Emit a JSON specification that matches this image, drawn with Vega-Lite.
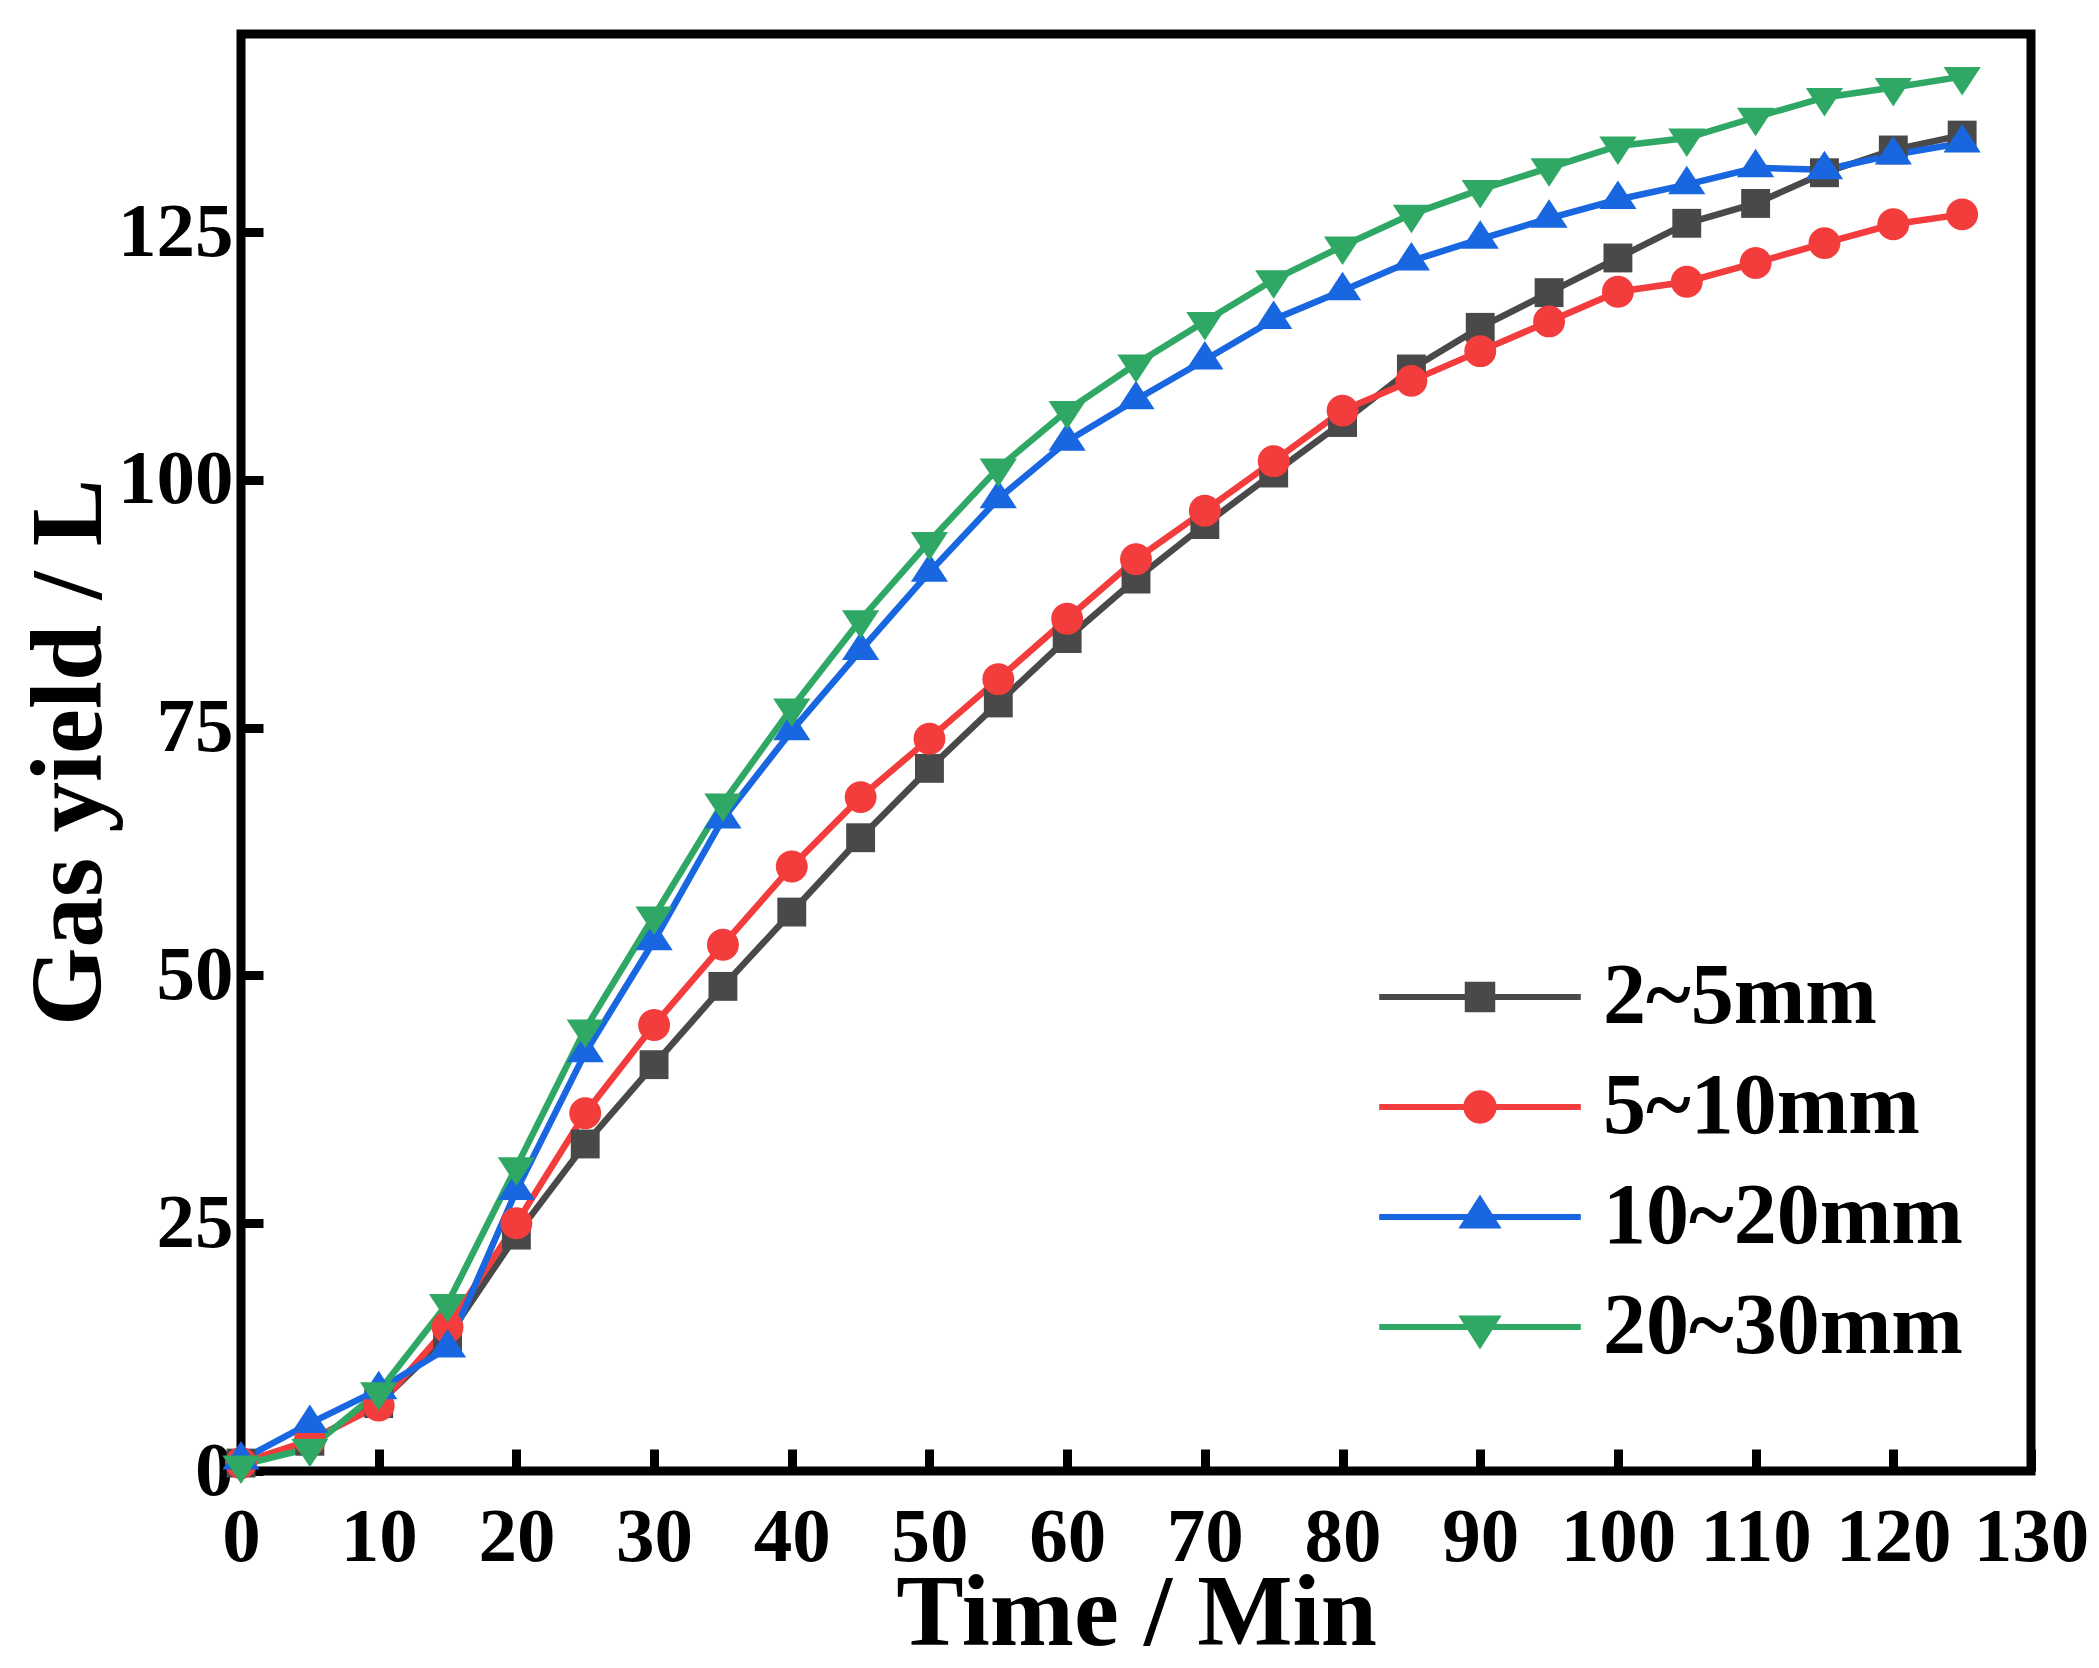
{
  "$schema": "https://vega.github.io/schema/vega-lite/v6.json",
  "width": 1790,
  "height": 1437,
  "autosize": {"type": "none"},
  "padding": {"left": 241, "top": 34, "right": 68, "bottom": 197},
  "background": "white",
  "data": {
    "values": [
      {"t": 0, "s": "2~5mm", "v": 0.8}, {"t": 5, "s": "2~5mm", "v": 3.0}, {"t": 10, "s": "2~5mm", "v": 6.8}, {"t": 15, "s": "2~5mm", "v": 13.5},
      {"t": 20, "s": "2~5mm", "v": 23.8}, {"t": 25, "s": "2~5mm", "v": 33.0}, {"t": 30, "s": "2~5mm", "v": 41.0}, {"t": 35, "s": "2~5mm", "v": 48.9},
      {"t": 40, "s": "2~5mm", "v": 56.4}, {"t": 45, "s": "2~5mm", "v": 63.9}, {"t": 50, "s": "2~5mm", "v": 70.9}, {"t": 55, "s": "2~5mm", "v": 77.5},
      {"t": 60, "s": "2~5mm", "v": 84.0}, {"t": 65, "s": "2~5mm", "v": 90.0}, {"t": 70, "s": "2~5mm", "v": 95.5}, {"t": 75, "s": "2~5mm", "v": 100.7},
      {"t": 80, "s": "2~5mm", "v": 105.8}, {"t": 85, "s": "2~5mm", "v": 111.2}, {"t": 90, "s": "2~5mm", "v": 115.4}, {"t": 95, "s": "2~5mm", "v": 118.9},
      {"t": 100, "s": "2~5mm", "v": 122.4}, {"t": 105, "s": "2~5mm", "v": 125.9}, {"t": 110, "s": "2~5mm", "v": 127.9}, {"t": 115, "s": "2~5mm", "v": 131.0},
      {"t": 120, "s": "2~5mm", "v": 133.3}, {"t": 125, "s": "2~5mm", "v": 134.8},

      {"t": 0, "s": "5~10mm", "v": 0.8}, {"t": 5, "s": "5~10mm", "v": 3.1}, {"t": 10, "s": "5~10mm", "v": 6.6}, {"t": 15, "s": "5~10mm", "v": 14.5},
      {"t": 20, "s": "5~10mm", "v": 25.0}, {"t": 25, "s": "5~10mm", "v": 36.1}, {"t": 30, "s": "5~10mm", "v": 45.0}, {"t": 35, "s": "5~10mm", "v": 53.1},
      {"t": 40, "s": "5~10mm", "v": 61.0}, {"t": 45, "s": "5~10mm", "v": 68.0}, {"t": 50, "s": "5~10mm", "v": 73.9}, {"t": 55, "s": "5~10mm", "v": 79.9},
      {"t": 60, "s": "5~10mm", "v": 86.0}, {"t": 65, "s": "5~10mm", "v": 92.0}, {"t": 70, "s": "5~10mm", "v": 96.9}, {"t": 75, "s": "5~10mm", "v": 101.9},
      {"t": 80, "s": "5~10mm", "v": 107.0}, {"t": 85, "s": "5~10mm", "v": 110.0}, {"t": 90, "s": "5~10mm", "v": 113.0}, {"t": 95, "s": "5~10mm", "v": 116.0},
      {"t": 100, "s": "5~10mm", "v": 119.0}, {"t": 105, "s": "5~10mm", "v": 120.0}, {"t": 110, "s": "5~10mm", "v": 121.9}, {"t": 115, "s": "5~10mm", "v": 123.9},
      {"t": 120, "s": "5~10mm", "v": 125.8}, {"t": 125, "s": "5~10mm", "v": 126.8},

      {"t": 0, "s": "10~20mm", "v": 1.1}, {"t": 5, "s": "10~20mm", "v": 4.8}, {"t": 10, "s": "10~20mm", "v": 8.2}, {"t": 15, "s": "10~20mm", "v": 12.4},
      {"t": 20, "s": "10~20mm", "v": 28.3}, {"t": 25, "s": "10~20mm", "v": 42.2}, {"t": 30, "s": "10~20mm", "v": 53.5}, {"t": 35, "s": "10~20mm", "v": 65.8},
      {"t": 40, "s": "10~20mm", "v": 74.7}, {"t": 45, "s": "10~20mm", "v": 82.8}, {"t": 50, "s": "10~20mm", "v": 90.7}, {"t": 55, "s": "10~20mm", "v": 98.1},
      {"t": 60, "s": "10~20mm", "v": 103.9}, {"t": 65, "s": "10~20mm", "v": 108.1}, {"t": 70, "s": "10~20mm", "v": 112.1}, {"t": 75, "s": "10~20mm", "v": 116.2},
      {"t": 80, "s": "10~20mm", "v": 119.1}, {"t": 85, "s": "10~20mm", "v": 122.1}, {"t": 90, "s": "10~20mm", "v": 124.3}, {"t": 95, "s": "10~20mm", "v": 126.4},
      {"t": 100, "s": "10~20mm", "v": 128.3}, {"t": 105, "s": "10~20mm", "v": 129.8}, {"t": 110, "s": "10~20mm", "v": 131.5}, {"t": 115, "s": "10~20mm", "v": 131.3},
      {"t": 120, "s": "10~20mm", "v": 132.8}, {"t": 125, "s": "10~20mm", "v": 134.0},

      {"t": 0, "s": "20~30mm", "v": 0.6}, {"t": 5, "s": "20~30mm", "v": 2.3}, {"t": 10, "s": "20~30mm", "v": 8.0}, {"t": 15, "s": "20~30mm", "v": 16.9},
      {"t": 20, "s": "20~30mm", "v": 30.7}, {"t": 25, "s": "20~30mm", "v": 44.6}, {"t": 30, "s": "20~30mm", "v": 56.0}, {"t": 35, "s": "20~30mm", "v": 67.4},
      {"t": 40, "s": "20~30mm", "v": 77.0}, {"t": 45, "s": "20~30mm", "v": 85.9}, {"t": 50, "s": "20~30mm", "v": 93.8}, {"t": 55, "s": "20~30mm", "v": 101.2},
      {"t": 60, "s": "20~30mm", "v": 107.0}, {"t": 65, "s": "20~30mm", "v": 111.7}, {"t": 70, "s": "20~30mm", "v": 116.0}, {"t": 75, "s": "20~30mm", "v": 120.2},
      {"t": 80, "s": "20~30mm", "v": 123.6}, {"t": 85, "s": "20~30mm", "v": 126.8}, {"t": 90, "s": "20~30mm", "v": 129.3}, {"t": 95, "s": "20~30mm", "v": 131.5},
      {"t": 100, "s": "20~30mm", "v": 133.7}, {"t": 105, "s": "20~30mm", "v": 134.5}, {"t": 110, "s": "20~30mm", "v": 136.6}, {"t": 115, "s": "20~30mm", "v": 138.6},
      {"t": 120, "s": "20~30mm", "v": 139.6}, {"t": 125, "s": "20~30mm", "v": 140.7}
    ]
  },
  "encoding": {
    "x": {
      "field": "t",
      "type": "quantitative",
      "scale": {"domain": [0, 130], "nice": false},
      "axis": {
        "values": [0, 10, 20, 30, 40, 50, 60, 70, 80, 90, 100, 110, 120, 130],
        "title": "Time / Min",
        "labelPadding": 50,
        "titleX": 895,
        "titleY": 173,
        "titleBaseline": "alphabetic"
      }
    },
    "y": {
      "field": "v",
      "type": "quantitative",
      "scale": {"domain": [0, 145], "nice": false},
      "axis": {
        "values": [0, 25, 50, 75, 100, 125],
        "title": "Gas yield / L",
        "labelPadding": 30,
        "titleAngle": -90,
        "titleX": -141,
        "titleY": 718,
        "titleBaseline": "alphabetic"
      }
    },
    "color": {
      "field": "s",
      "type": "nominal",
      "scale": {
        "domain": ["2~5mm", "5~10mm", "10~20mm", "20~30mm"],
        "range": ["#494949", "#f33d3d", "#1866e0", "#30a865"]
      },
      "legend": {
        "title": null,
        "orient": "none",
        "legendX": 1196,
        "legendY": 920,
        "padding": 0,
        "symbolSize": 1296,
        "symbolStrokeWidth": 6,
        "labelFont": "Liberation Serif",
        "labelFontWeight": "bold",
        "labelFontSize": 86,
        "labelColor": "black",
        "labelOffset": 80,
        "labelLimit": 0,
        "rowPadding": 24,
        "encode": {
          "symbols": {
            "update": {
              "shape": {"signal": "datum.value === '2~5mm' ? 'M-5.6,0H5.6M-0.68,-0.68H0.68V0.68H-0.68Z' : datum.value === '5~10mm' ? 'M-5.6,0H5.6M0.76,0A0.76,0.76,0,1,1,-0.76,0A0.76,0.76,0,1,1,0.76,0Z' : datum.value === '10~20mm' ? 'M-5.6,0H5.6M0,-0.94L0.9,0.47L-0.9,0.47Z' : 'M-5.6,0H5.6M0,0.94L0.9,-0.47L-0.9,-0.47Z'"},
              "fill": {"scale": "color", "field": "value"},
              "stroke": {"scale": "color", "field": "value"},
              "strokeWidth": {"value": 6},
              "opacity": {"value": 1}
            }
          }
        }
      }
    }
  },
  "layer": [
    {"mark": {"type": "line", "strokeWidth": 6.5}},
    {
      "mark": {"type": "point", "filled": true, "opacity": 1, "size": 1444},
      "encoding": {
        "shape": {
          "field": "s",
          "type": "nominal",
          "scale": {
            "domain": ["20~30mm", "10~20mm", "5~10mm", "2~5mm"],
            "range": [
              "M0,1.0L0.98,-0.5L-0.98,-0.5Z",
              "M0,-1.0L0.98,0.5L-0.98,0.5Z",
              "M0.84,0A0.84,0.84,0,1,1,-0.84,0A0.84,0.84,0,1,1,0.84,0Z",
              "M-0.76,-0.76H0.76V0.76H-0.76Z"
            ]
          },
          "legend": null
        }
      }
    }
  ],
  "config": {
    "view": {"stroke": "black", "strokeWidth": 9},
    "axis": {
      "grid": false,
      "domain": false,
      "ticks": true,
      "tickSize": -22,
      "tickWidth": 9,
      "tickColor": "black",
      "labelFont": "Liberation Serif",
      "labelFontWeight": "bold",
      "labelFontSize": 77,
      "labelColor": "black",
      "labelFlush": false,
      "labelOverlap": false,
      "titleFont": "Liberation Serif",
      "titleFontWeight": "bold",
      "titleFontSize": 101,
      "titleColor": "black"
    }
  }
}
